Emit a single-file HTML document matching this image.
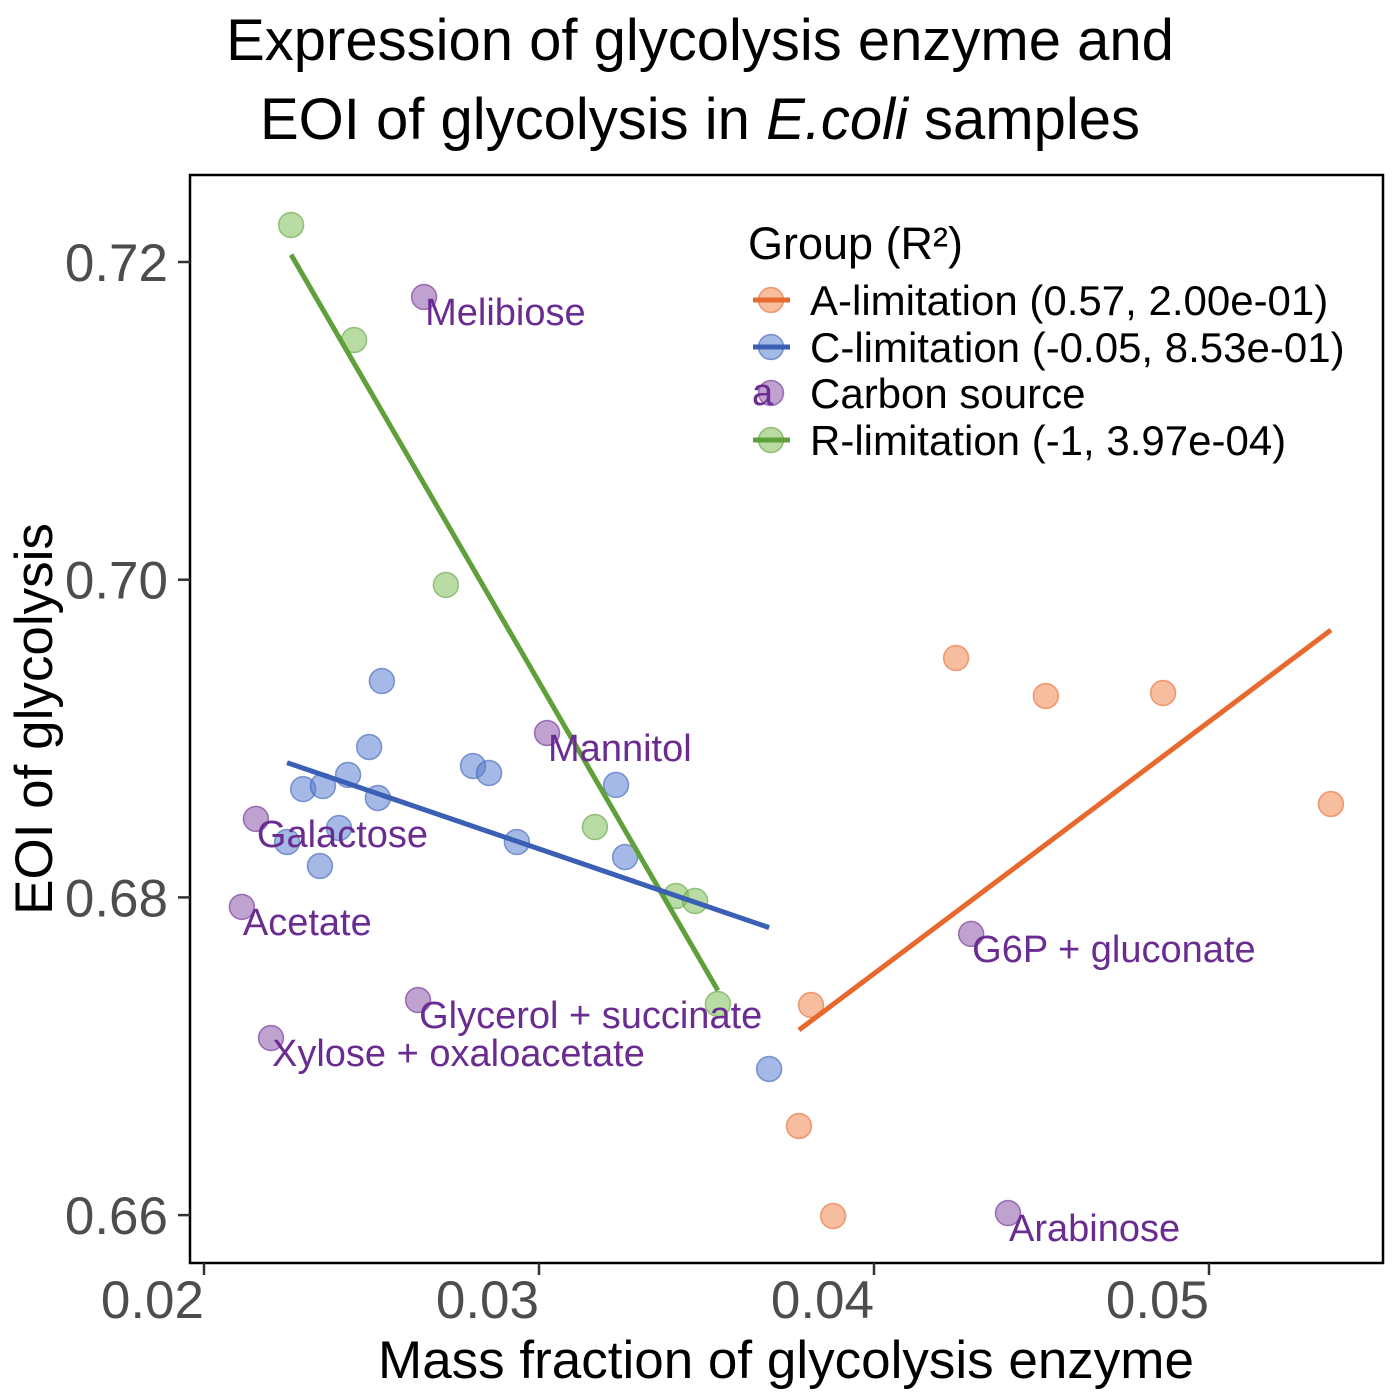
<!DOCTYPE html>
<html><head><meta charset="utf-8">
<style>
html,body{margin:0;padding:0;background:#fff;}
svg{display:block;font-family:"Liberation Sans",Arial,sans-serif;}
</style></head>
<body>
<svg id="chart" width="1400" height="1400" viewBox="0 0 1400 1400">
  <text x="700" y="60" text-anchor="middle" font-size="58" fill="#000">Expression of glycolysis enzyme and</text>
  <text x="700" y="139" text-anchor="middle" font-size="58" fill="#000">EOI of glycolysis in <tspan font-style="italic">E.coli</tspan> samples</text>
  <rect x="190" y="175" width="1193" height="1088" fill="#fff" stroke="#000" stroke-width="2.5"/>
  <g id="axes"></g>
  <g id="marks"></g>
  <text x="786" y="1378" text-anchor="middle" font-size="53" fill="#000">Mass fraction of glycolysis enzyme</text>
  <text transform="translate(52,719) rotate(-90)" text-anchor="middle" font-size="53" fill="#000">EOI of glycolysis</text>
  <g id="legend">
    <text x="748" y="259" font-size="45" fill="#000">Group (R²)</text>
  </g>
</svg>
<script>
const xTicks = [0.02, 0.03, 0.04, 0.05];
const xTickLabels = ["0.02", "0.03", "0.04", "0.05"];
const yTicks = [0.66, 0.68, 0.70, 0.72];
const yTickLabels = ["0.66", "0.68", "0.70", "0.72"];

const rX = [0.02260, 0.02448, 0.02722, 0.03167, 0.03409, 0.03466, 0.03534];
const rY = [0.72233, 0.71509, 0.69967, 0.68443, 0.68009, 0.67977, 0.67329];
const cX = [0.02531, 0.02493, 0.02430, 0.02296, 0.02355, 0.02519, 0.02403, 0.02248, 0.02346, 0.02803, 0.02851, 0.02934, 0.03230, 0.03257, 0.03687];
const cY = [0.69362, 0.68947, 0.68771, 0.68682, 0.68701, 0.68626, 0.68437, 0.68349, 0.68198, 0.68827, 0.68783, 0.68349, 0.68708, 0.68254, 0.66920];
const aX = [0.04245, 0.04513, 0.04863, 0.05364, 0.03812, 0.03776, 0.03878];
const aY = [0.69507, 0.69268, 0.69287, 0.68588, 0.67323, 0.66561, 0.65994];
const sourceX = [0.02657, 0.03024, 0.02155, 0.02113, 0.02639, 0.02200, 0.04290, 0.04400];
const sourceY = [0.71780, 0.69035, 0.68494, 0.67940, 0.67354, 0.67115, 0.67770, 0.66013];
const sourceLabels = ["Melibiose", "Mannitol", "Galactose", "Acetate", "Glycerol + succinate", "Xylose + oxaloacetate", "G6P + gluconate", "Arabinose"];
const legendLabels = ["A-limitation (0.57, 2.00e-01)", "C-limitation (-0.05, 8.53e-01)", "Carbon source", "R-limitation (-1, 3.97e-04)"];

const NS = "http://www.w3.org/2000/svg";
function sx(v){ return 204 + (v - 0.02) * 33500; }
function sy(v){ return 262 - (v - 0.72) * 15885; }
function mk(tag, attrs, parent){
  const e = document.createElementNS(NS, tag);
  for (const k in attrs) e.setAttribute(k, attrs[k]);
  parent.appendChild(e);
  return e;
}
const axes = document.getElementById('axes');
const marks = document.getElementById('marks');
const legend = document.getElementById('legend');

xTicks.forEach((t, i) => {
  const tk = mk('line', {x1: sx(t), x2: sx(t), y1: 1263, y2: 1275, stroke: '#333', 'stroke-width': 2.5}, axes);
  
  
  const lb = mk('text', {x: sx(t), y: 1318, 'text-anchor': 'end', 'font-size': 53, fill: '#4d4d4d'}, axes);
  lb.textContent = xTickLabels[i];
  
  
});
yTicks.forEach((t, i) => {
  const tk = mk('line', {x1: 178, x2: 190, y1: sy(t), y2: sy(t), stroke: '#333', 'stroke-width': 2.5}, axes);
  
  
  const lb = mk('text', {x: 168, y: sy(t) + 19, 'text-anchor': 'end', 'font-size': 53, fill: '#4d4d4d'}, axes);
  lb.textContent = yTickLabels[i];
  
  
});

function fit(xs, ys){
  const n = xs.length;
  const mx = xs.reduce((a, b) => a + b, 0) / n;
  const my = ys.reduce((a, b) => a + b, 0) / n;
  let sxy = 0, sxx = 0;
  for (let i = 0; i < n; i++){ sxy += (xs[i] - mx) * (ys[i] - my); sxx += (xs[i] - mx) ** 2; }
  const b = sxy / sxx;
  return {b: b, a: my - b * mx};
}
function drawPoints(xs, ys, fill, stroke, name){
  xs.forEach((x, i) => {
    const c = mk('circle', {cx: sx(x), cy: sy(ys[i]), r: 12.5, fill: fill, 'fill-opacity': 0.55, stroke: stroke, 'stroke-opacity': 0.6, 'stroke-width': 1.5}, marks);
    
    
  });
}
function drawFit(xs, ys, color, name){
  const f = fit(xs, ys);
  const x0 = Math.min(...xs), x1 = Math.max(...xs);
  const l = mk('line', {x1: sx(x0), y1: sy(f.a + f.b * x0), x2: sx(x1), y2: sy(f.a + f.b * x1), stroke: color, 'stroke-width': 5}, marks);
  
  
}
drawPoints(rX, rY, '#7fbf5b', '#5fa03a', 'r-limitation-point');
drawPoints(cX, cY, '#5a7fd0', '#3a5fb5', 'c-limitation-point');
drawPoints(aX, aY, '#ee8650', '#e8692d', 'a-limitation-point');
drawPoints(sourceX, sourceY, '#8a55a8', '#6a2c91', 'carbon-source-point');
drawFit(rX, rY, '#5fa03a', 'r-limitation-fit-line');
drawFit(cX, cY, '#3a5fb5', 'c-limitation-fit-line');
drawFit(aX, aY, '#e8692d', 'a-limitation-fit-line');
sourceX.forEach((x, i) => {
  const t = mk('text', {x: sx(x) + 1, y: sy(sourceY[i]) + 28, 'font-size': 38, fill: '#6a2c91'}, marks);
  t.textContent = sourceLabels[i];
  
  
});

const legColors = ['#e8692d', '#3a5fb5', '#6a2c91', '#5fa03a'];
const legFills = ['#ee8650', '#5a7fd0', '#8a55a8', '#7fbf5b'];
const legY = [300, 347, 393, 440];
legendLabels.forEach((lab, i) => {
  const y = legY[i];
  const c = mk('circle', {cx: 771, cy: y, r: 12.5, fill: legFills[i], 'fill-opacity': 0.55, stroke: legColors[i], 'stroke-opacity': 0.6, 'stroke-width': 1.5}, legend);
  
  
  if (i === 2) {
    const a = mk('text', {x: 752, y: y + 12, 'font-size': 38, fill: '#6a2c91'}, legend);
    a.textContent = 'a';
    
    
  } else {
    const l = mk('line', {x1: 753, x2: 790, y1: y, y2: y, stroke: legColors[i], 'stroke-width': 5}, legend);
    
    
  }
  const t = mk('text', {x: 810, y: y + 15, 'font-size': 42, fill: '#000'}, legend);
  t.textContent = lab;
  
  
});
</script>
</body></html>
